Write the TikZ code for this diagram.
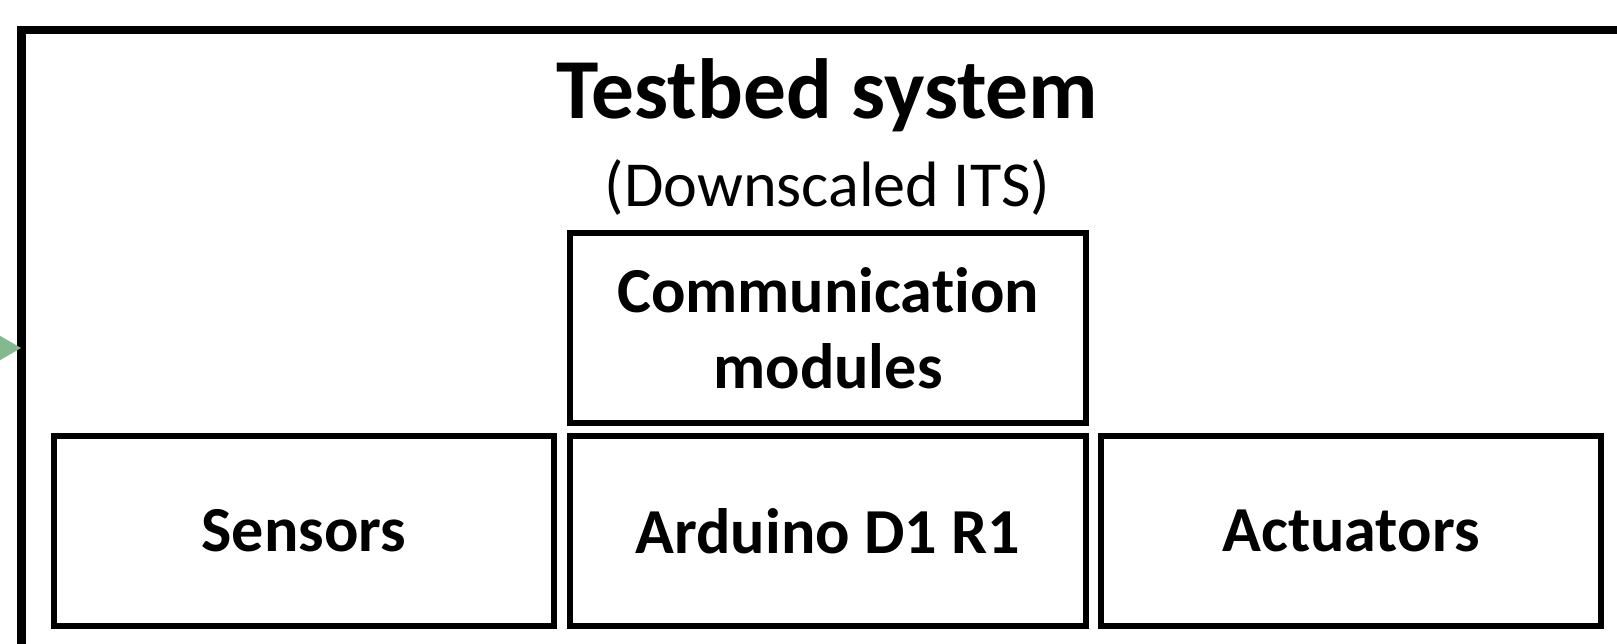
\documentclass[tikz,border=0pt]{standalone}
\usepackage{fontspec}
\setmainfont{Carlito}[Ligatures=NoCommon]
\usepackage{xcolor}
\usepackage{tikz}
\usetikzlibrary{positioning,arrows.meta}

\definecolor{feedgreen}{RGB}{130,186,142}

\tikzset{
	blockbox/.style={draw,line width=0.12cm,minimum height=3.8cm,inner sep=0pt,align=center,font=\fontsize{36.5}{43}\selectfont\bfseries},
}

\begin{document}
\begin{tikzpicture}
	\useasboundingbox (0,0) rectangle (32.34,12.88);
	\clip (0,0) rectangle (32.34,12.88);
	
	% outer frame, runs off the right and bottom edges
	\node[draw,line width=0.16cm,outer sep=0pt,anchor=west,minimum width=34cm,minimum height=12.72cm] (testbed) at (0.43,5.92) {};
	
	\node[anchor=base,font=\fontsize{48.6}{58}\selectfont\bfseries] (title) at (16.55,10.5) {Testbed system};
	\node[anchor=base,font=\fontsize{36.5}{43}\selectfont] (subtitle) at (16.55,8.74) {(Downscaled ITS)};
	
	\node[blockbox,minimum width=10.32cm] (arduino) at (16.56,2.26) {Arduino D1 R1};
	\node[blockbox,minimum width=10cm,left=0.2cm of arduino] (sensors) {Sensors};
	\node[blockbox,minimum width=10cm,right=0.18cm of arduino] (actuators) {Actuators};
	\node[blockbox,minimum width=10.32cm,above=0.14cm of arduino] (comm) {Communication\\modules};
	
	\coordinate (feed) at (-1,5.92);
	\draw[feedgreen,line width=0.2cm,-{Triangle[length=0.6cm,width=0.64cm]}] (feed) -- (testbed.west);
\end{tikzpicture}
\end{document}
